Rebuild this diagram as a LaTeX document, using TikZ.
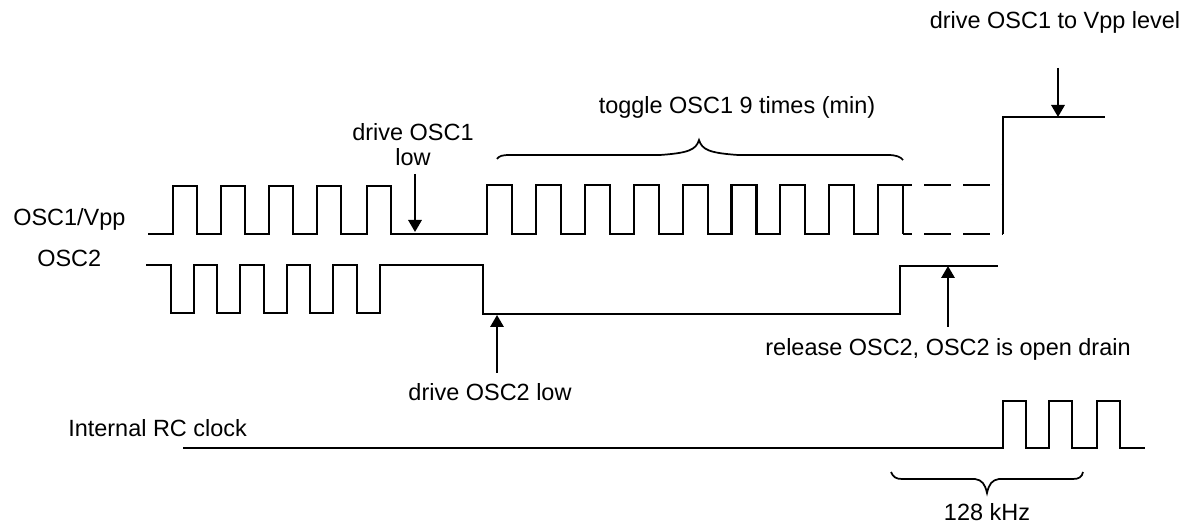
\documentclass[tikz,border=0pt]{standalone}
\usepackage{fontspec}
\setmainfont{Liberation Sans}
\usetikzlibrary{arrows.meta}

\begin{document}
\begin{tikzpicture}[
    x=0.75pt, y=-0.75pt,
    every node/.style={font=\fontsize{17.6}{18.8}\selectfont, inner sep=0pt},
    sigtext/.style={anchor=base},
    wave/.style={
        line width=1.6pt,
        line join=miter
    },
    dashwave/.style={
        wave,
        dash pattern=on 20pt off 9pt,
        dash phase=13pt
    },
    arrow/.style={
        line width=1.6pt,
        -{Triangle[length=9pt, width=10pt]}
    },
    bracket/.style={
        line width=1.3pt
    }
]

\useasboundingbox (0,0) rectangle (1199,523);

% Signal names
\node[sigtext, anchor=base west] (osc1name) at (13,226) {OSC1/Vpp};
\node[sigtext, anchor=base west] (osc2name) at (37,267) {OSC2};
\node[sigtext, anchor=base west] (rcname) at (68,437) {Internal RC clock};

% OSC1/Vpp
\draw[wave] (148,234)
    \foreach \x in {173,221,269,317,367} {
        -- (\x,234) -- (\x,186) -- (\x+24,186) -- (\x+24,234)
    } -- (487,234)
    \foreach \i in {0,...,8} {
        -- ({487+48.9*\i},234) -- ({487+48.9*\i},185)
        -- ({512+48.9*\i},185) -- ({512+48.9*\i},234)
    };
\draw[dashwave] (903,185) -- (1003,185);
\draw[dashwave] (903,234) -- (1003,234);
\draw[wave] (1003,234) -- (1003,117) -- (1105,117);

% OSC2
\draw[wave] (146,265)
    \foreach \x in {171,217,264,310,357} {
        -- (\x,265) -- (\x,313) -- (\x+23,313) -- (\x+23,265)
    } -- (483,265) -- (483,314) -- (900,314) -- (900,266) -- (998,266);

% Internal RC clock
\draw[wave] (183,448)
    \foreach \x in {1003,1049,1097} {
        -- (\x,448) -- (\x,401) -- (\x+23,401) -- (\x+23,448)
    } -- (1145,448);

% Annotations
\node[sigtext] (vpptxt) at (1055,29) {drive OSC1 to Vpp level};
\node[sigtext] (toggletxt) at (737,114) {toggle OSC1 9 times (min)};
\node[anchor=north, align=center] (osc1lowtxt) at (413,123) {drive OSC1\\low};
\node[sigtext] (osc2lowtxt) at (490,401) {drive OSC2 low};
\node[sigtext] (releasetxt) at (948,356) {release OSC2, OSC2 is open drain};
\node[sigtext] (freqtxt) at (987,520) {128 kHz};

% Arrow ends
\coordinate (vpptail) at (1058,68);
\coordinate (vpppt) at (1058,117);
\coordinate (osc1lowtail) at (415,174);
\coordinate (osc1lowpt) at (415,232);
\coordinate (osc2lowtail) at (497,373);
\coordinate (osc2lowpt) at (497,315);
\coordinate (releasetail) at (948,327);
\coordinate (releasept) at (948,266);

\draw[arrow] (vpptail) -- (vpppt);
\draw[arrow] (osc1lowtail) -- (osc1lowpt);
\draw[arrow] (osc2lowtail) -- (osc2lowpt);
\draw[arrow] (releasetail) -- (releasept);

% Braces
\draw[bracket] (497,159) .. controls (499,156) and (502,155) .. (510,155)
    -- (660,155) .. controls (688,153) and (696,150) .. (699,140)
    .. controls (702,150) and (710,153) .. (738,155)
    -- (888,155) .. controls (896,155) and (901,157) .. (903,160);
\draw[bracket] (891,472) .. controls (893,477) and (896,479) .. (902,479)
    -- (975,479) .. controls (982,480) and (985,484) .. (987,493)
    .. controls (989,484) and (992,480) .. (999,479)
    -- (1073,479) .. controls (1079,479) and (1082,477) .. (1083,472);

\end{tikzpicture}
\end{document}
